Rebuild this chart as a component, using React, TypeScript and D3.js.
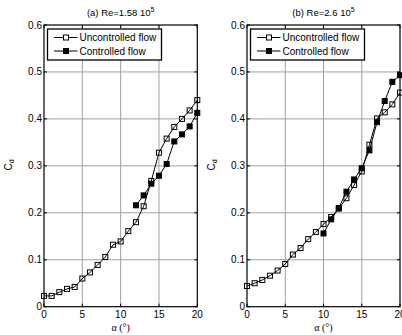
import React from "react";
import * as d3 from "d3";

// Angle of attack (deg)
const alphaAll = [0, 1, 2, 3, 4, 5, 6, 7, 8, 9, 10, 11, 12, 13, 14, 15, 16, 17, 18, 19, 20];

// Panel (a) Re = 1.58e5
const aUncontrolled = [0.023, 0.023, 0.031, 0.038, 0.042, 0.060, 0.073, 0.089, 0.106, 0.132, 0.139, 0.161, 0.180, 0.214, 0.268, 0.328, 0.358, 0.383, 0.400, 0.418, 0.440];
const aControlledAlpha = [12, 13, 14, 15, 16, 17, 18, 19, 20];
const aControlled = [0.216, 0.237, 0.262, 0.279, 0.304, 0.352, 0.367, 0.384, 0.413];

// Panel (b) Re = 2.6e5
const bUncontrolled = [0.044, 0.050, 0.057, 0.066, 0.077, 0.091, 0.111, 0.125, 0.144, 0.159, 0.176, 0.191, 0.209, 0.231, 0.259, 0.288, 0.345, 0.401, 0.414, 0.431, 0.456];
const bControlledAlpha = [10, 11, 12, 13, 14, 15, 16, 17, 18, 19, 20];
const bControlled = [0.156, 0.186, 0.210, 0.245, 0.271, 0.295, 0.333, 0.393, 0.438, 0.479, 0.493];

const xTicks = [0, 5, 10, 15, 20];
const yTicks = [0, 0.1, 0.2, 0.3, 0.4, 0.5, 0.6];
const legendLabels = ["Uncontrolled flow", "Controlled flow"];

const FONT = "Arial, 'Liberation Sans', sans-serif";

type PanelProps = {
  x0: number;
  x1: number;
  titleMain: string;
  titleSup: string;
  unc: number[];
  ctrlAlpha: number[];
  ctrl: number[];
};

function Panel({ x0, x1, titleMain, titleSup, unc, ctrlAlpha, ctrl }: PanelProps) {
  const top = 25;
  const bottom = 306.7;
  const x = d3.scaleLinear().domain([0, 20]).range([x0, x1]);
  const y = d3.scaleLinear().domain([0, 0.6]).range([bottom, top]);
  const line = d3
    .line<[number, number]>()
    .x((d) => x(d[0]))
    .y((d) => y(d[1]));
  const uncPts: [number, number][] = alphaAll.map((a, i) => [a, unc[i]]);
  const ctrlPts: [number, number][] = ctrlAlpha.map((a, i) => [a, ctrl[i]]);
  const ms = 5;
  const tick = 3;
  const cx = (x0 + x1) / 2;
  const lg = { x: x0 + 3.5, y: 29, w: 114, h: 31 };

  return (
    <g>
      {/* grid */}
      {xTicks.slice(1, -1).map((t) => (
        <line key={"gx" + t} x1={x(t)} x2={x(t)} y1={top} y2={bottom} stroke="#a0a0a0" strokeWidth={1} />
      ))}
      {yTicks.slice(1, -1).map((t) => (
        <line key={"gy" + t} x1={x0} x2={x1} y1={y(t)} y2={y(t)} stroke="#a0a0a0" strokeWidth={1} />
      ))}
      {/* ticks */}
      {xTicks.map((t) => (
        <g key={"tx" + t}>
          <line x1={x(t)} x2={x(t)} y1={bottom} y2={bottom - tick} stroke="#000" />
          <line x1={x(t)} x2={x(t)} y1={top} y2={top + tick} stroke="#000" />
          <text x={x(t)} y={318} textAnchor="middle" fontSize={10} fontFamily={FONT}>
            {t}
          </text>
        </g>
      ))}
      {yTicks.map((t) => (
        <g key={"ty" + t}>
          <line x1={x0} x2={x0 + tick} y1={y(t)} y2={y(t)} stroke="#000" />
          <line x1={x1} x2={x1 - tick} y1={y(t)} y2={y(t)} stroke="#000" />
          <text x={x0 - 2} y={y(t) + 3.5} textAnchor="end" fontSize={10} fontFamily={FONT}>
            {t === 0 ? "0" : t.toFixed(1)}
          </text>
        </g>
      ))}
      {/* series */}
      <path d={line(uncPts) ?? ""} fill="none" stroke="#000" strokeWidth={1} />
      <path d={line(ctrlPts) ?? ""} fill="none" stroke="#000" strokeWidth={1} />
      {uncPts.map((p, i) => (
        <rect key={"u" + i} x={x(p[0]) - ms / 2} y={y(p[1]) - ms / 2} width={ms} height={ms} fill="none" stroke="#000" strokeWidth={1} />
      ))}
      {ctrlPts.map((p, i) => (
        <rect key={"c" + i} x={x(p[0]) - ms / 2} y={y(p[1]) - ms / 2} width={ms} height={ms} fill="#000" stroke="#000" strokeWidth={1} />
      ))}
      {/* frame */}
      <rect x={x0} y={top} width={x1 - x0} height={bottom - top} fill="none" stroke="#000" strokeWidth={1.2} />
      {/* legend */}
      <rect x={lg.x} y={lg.y} width={lg.w} height={lg.h} fill="#fff" stroke="#000" strokeWidth={1.3} />
      {legendLabels.map((lab, i) => {
        const ly = 37.5 + i * 13.5;
        return (
          <g key={lab}>
            <line x1={lg.x + 6.5} x2={lg.x + 30} y1={ly} y2={ly} stroke="#000" />
            <rect x={lg.x + 18.5 - ms / 2} y={ly - ms / 2} width={ms} height={ms} fill={i === 0 ? "#fff" : "#000"} stroke="#000" />
            <text x={lg.x + 32} y={ly + 3.5} fontSize={10} fontFamily={FONT}>
              {lab}
            </text>
          </g>
        );
      })}
      {/* title */}
      <text x={cx} y={16} textAnchor="middle" fontSize={9.5} fontFamily={FONT}>
        {titleMain}
        <tspan fontSize={7} dy={-4}>
          {titleSup}
        </tspan>
      </text>
      {/* axis labels */}
      <text x={cx} y={330.5} textAnchor="middle" fontSize={10} fontFamily="'Liberation Serif', 'DejaVu Serif', serif">
        α (°)
      </text>
      <text transform={`translate(${x0 - 32},165) rotate(-90)`} textAnchor="middle" fontSize={10} fontFamily={FONT}>
        C
        <tspan fontSize={7} dy={2}>
          d
        </tspan>
      </text>
    </g>
  );
}

export default function App() {
  return (
    <svg width={402} height={335} style={{ position: "absolute", left: 0, top: 0, background: "#fff" }}>
      <rect width={402} height={335} fill="#fff" />
      <Panel x0={44} x1={197.3} titleMain="(a) Re=1.58 10" titleSup="5" unc={aUncontrolled} ctrlAlpha={aControlledAlpha} ctrl={aControlled} />
      <Panel x0={247} x1={400} titleMain="(b) Re=2.6 10" titleSup="5" unc={bUncontrolled} ctrlAlpha={bControlledAlpha} ctrl={bControlled} />
    </svg>
  );
}
